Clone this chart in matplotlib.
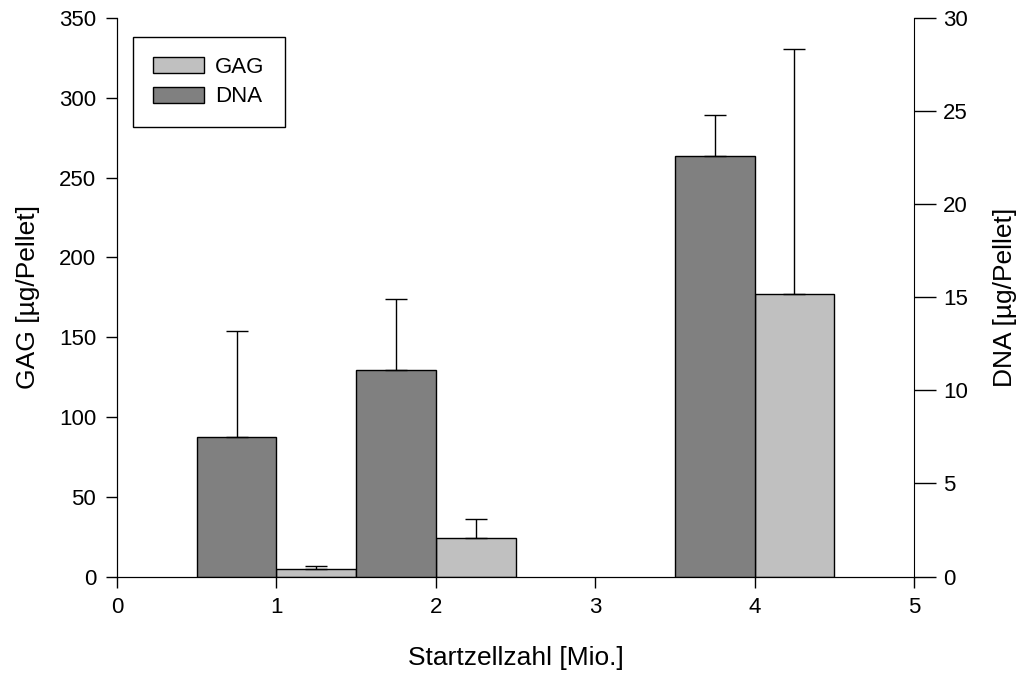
import numpy as np
import matplotlib.pyplot as plt

plt.rcParams['font.family'] = ['Liberation Sans', 'DejaVu Sans']

# data
start_cells = [1, 2, 4]            # Mio.
gag_mean = [4.6, 24.4, 177.3]      # µg/Pellet (left axis)
gag_err = [1.7, 11.9, 153.3]
dna_mean = [7.5, 11.1, 22.6]       # µg/Pellet (right axis)
dna_err = [5.7, 3.8, 2.2]

gag_color = '#c0c0c0'
dna_color = '#808080'
width = 0.5

fig = plt.figure(figsize=(10.24, 6.75), dpi=100)
ax = fig.add_axes([0.1143, 0.1459, 0.7783, 0.8274])
ax2 = ax.twinx()

x = np.array(start_cells, dtype=float)

# DNA bars left of the tick, GAG bars right of it
ax2.bar(x - width / 2, dna_mean, width, color=dna_color, edgecolor='black',
        linewidth=1.0, yerr=[np.zeros(len(dna_err)), dna_err],
        error_kw=dict(ecolor='black', elinewidth=1.0, capsize=8, capthick=1.0),
        label='DNA', zorder=2)
ax.bar(x + width / 2, gag_mean, width, color=gag_color, edgecolor='black',
       linewidth=1.0, yerr=[np.zeros(len(gag_err)), gag_err],
       error_kw=dict(ecolor='black', elinewidth=1.0, capsize=8, capthick=1.0),
       label='GAG', zorder=2)

ax.set_xlim(0, 5)
ax.set_ylim(0, 350)
ax2.set_ylim(0, 30)
ax.set_xticks(range(0, 6))
ax.set_yticks(range(0, 351, 50))
ax2.set_yticks(range(0, 31, 5))

for a in (ax, ax2):
    a.spines['top'].set_visible(False)
    a.set_facecolor('none')
ax.spines['right'].set_visible(False)

ax.tick_params(axis='both', direction='out', length=8, width=1.0,
               labelsize=16, pad=7)
ax2.tick_params(axis='y', direction='out', length=16, width=1.0,
                labelsize=16, pad=5)

ax.set_xlabel('Startzellzahl [Mio.]', fontsize=19, labelpad=20)
ax.set_ylabel('GAG [µg/Pellet]', fontsize=19, labelpad=14)
ax2.set_ylabel('DNA [µg/Pellet]', fontsize=19, labelpad=18)

h1, l1 = ax.get_legend_handles_labels()
h2, l2 = ax2.get_legend_handles_labels()
leg = ax2.legend(h1 + h2, l1 + l2, loc='upper left',
                 bbox_to_anchor=(0.02, 0.966), fontsize=16, frameon=True,
                 fancybox=False, edgecolor='black', framealpha=1,
                 handlelength=2.3, handleheight=0.72, borderpad=0.9,
                 labelspacing=0.38, handletextpad=0.5, borderaxespad=0)
leg.get_frame().set_linewidth(1.0)

fig.savefig('out.png', dpi=100)
